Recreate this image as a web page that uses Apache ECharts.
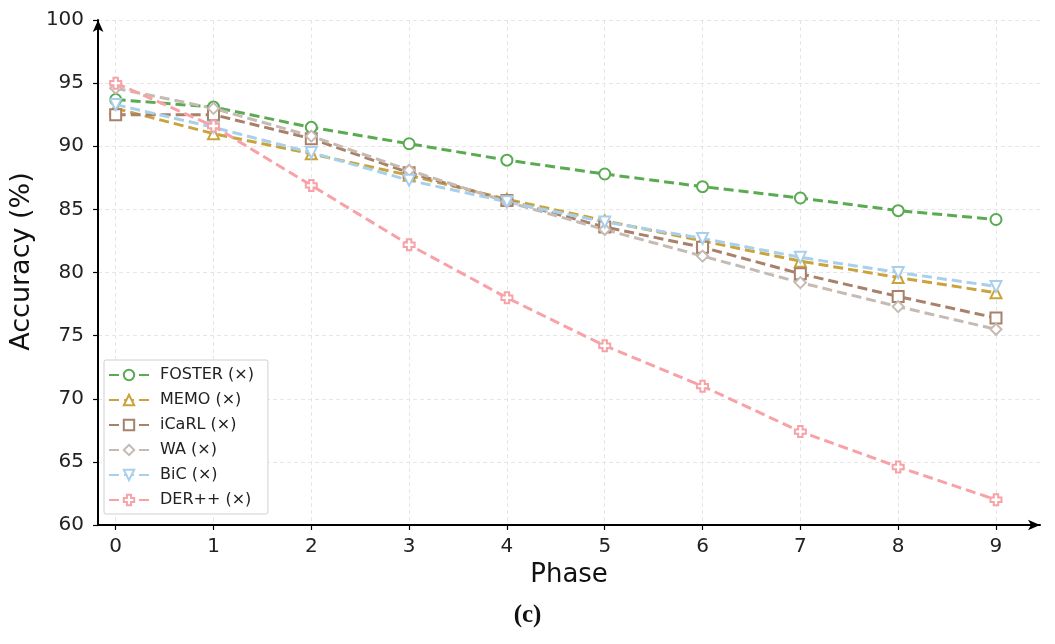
<!DOCTYPE html>
<html>
<head>
<meta charset="utf-8">
<script src="https://cdn.jsdelivr.net/npm/echarts@6/dist/echarts.min.js"></script>
<style>
  html, body { margin: 0; padding: 0; background: #fff; }
  #chart { width: 1055px; height: 644px; }
</style>
</head>
<body>
<div id="chart"></div>
<script>
// phases on the x axis
const phases = [0, 1, 2, 3, 4, 5, 6, 7, 8, 9]

// accuracy (%) per method
const foster = [93.7, 93.1, 91.5, 90.2, 88.9, 87.8, 86.8, 85.9, 84.9, 84.2]
const memo   = [93.0, 91.0, 89.4, 87.7, 85.8, 84.1, 82.5, 80.9, 79.6, 78.4]
const icarl  = [92.5, 92.5, 90.6, 87.9, 85.7, 83.6, 82.0, 79.9, 78.1, 76.4]
const wa     = [94.6, 93.0, 90.8, 88.1, 85.6, 83.4, 81.3, 79.2, 77.3, 75.5]
const bic    = [93.3, 91.5, 89.5, 87.3, 85.6, 84.0, 82.7, 81.2, 80.0, 78.9]
const derpp  = [95.0, 91.6, 86.9, 82.2, 78.0, 74.2, 71.0, 67.4, 64.6, 62.0]

const yTicks = [60, 65, 70, 75, 80, 85, 90, 95, 100]

const plus = 'path://M3,0 L7,0 L7,3 L10,3 L10,7 L7,7 L7,10 L3,10 L3,7 L0,7 L0,3 L3,3 Z'

function mk(name, values, color, symbol, rotate) {
  return {
    name: name,
    type: 'line',
    data: phases.map((p, i) => [p, values[i]]),
    symbol: symbol,
    symbolSize: 11,
    symbolRotate: rotate || 0,
    showAllSymbol: true,
    lineStyle: { color: color, width: 3, type: [10, 5] },
    itemStyle: { color: '#fff', borderColor: color, borderWidth: 2 },
    emphasis: { disabled: true }
  }
}

let myChart = echarts.init(document.getElementById('chart'))

myChart.setOption({
  animation: false,
  backgroundColor: '#fff',
  title: {
    text: '(c)',
    left: 'center',
    top: 598,
    textStyle: { fontFamily: 'Liberation Serif', fontWeight: 'bold', fontSize: 25, color: '#111' }
  },
  grid: { left: 97, right: 15, top: 20, bottom: 119 },
  legend: {
    orient: 'vertical',
    left: 104,
    top: 360,
    padding: [7, 14, 6, 4],
    itemGap: 9,
    itemWidth: 40,
    itemHeight: 13,
    borderColor: '#d0d0d0',
    borderWidth: 1,
    borderRadius: 2,
    backgroundColor: '#fff',
    textStyle: { fontFamily: 'DejaVu Sans', fontSize: 16, color: '#222', padding: [0, 0, 0, 6] },
    data: ['FOSTER (×)', 'MEMO (×)', 'iCaRL (×)', 'WA (×)', 'BiC (×)', 'DER++ (×)']
  },
  xAxis: {
    type: 'value',
    min: -0.18,
    max: 9.45,
    name: 'Phase',
    nameLocation: 'middle',
    nameGap: 36,
    nameTextStyle: { fontFamily: 'DejaVu Sans', fontSize: 26, color: '#111' },
    axisLine: { show: true, onZero: false, symbol: ['none', 'arrow'], symbolSize: [8, 12], lineStyle: { color: '#000', width: 2 } },
    axisTick: { show: true, customValues: phases, length: 5, lineStyle: { color: '#000', width: 1.2 } },
    axisLabel: { customValues: phases, fontFamily: 'DejaVu Sans', fontSize: 20, color: '#222', margin: 12 },
    splitLine: { show: true, customValues: phases, lineStyle: { color: '#e6e6e6', type: [4, 3], width: 1 } }
  },
  yAxis: {
    type: 'value',
    min: yTicks[0],
    max: yTicks[yTicks.length - 1],
    interval: 5,
    name: 'Accuracy (%)',
    nameLocation: 'middle',
    nameGap: 52,
    nameTextStyle: { fontFamily: 'DejaVu Sans', fontSize: 27, color: '#111', padding: [0, 0, 0, 22] },
    axisLine: { show: true, onZero: false, symbol: ['none', 'arrow'], symbolSize: [8, 12], lineStyle: { color: '#000', width: 2 } },
    axisTick: { show: true, length: 5, lineStyle: { color: '#000', width: 1.2 } },
    axisLabel: { fontFamily: 'DejaVu Sans', fontSize: 20, color: '#222', margin: 14 },
    splitLine: { show: true, lineStyle: { color: '#e6e6e6', type: [4, 3], width: 1 } }
  },
  series: [
    mk('FOSTER (×)', foster, '#5aaa52', 'circle'),
    mk('MEMO (×)', memo, '#c9a43c', 'triangle'),
    mk('iCaRL (×)', icarl, '#a98069', 'rect'),
    mk('WA (×)', wa, '#c6bbb3', 'diamond'),
    mk('BiC (×)', bic, '#a8d0ec', 'triangle', 180),
    mk('DER++ (×)', derpp, '#f8a2a8', plus)
  ]
})
</script>
</body>
</html>
